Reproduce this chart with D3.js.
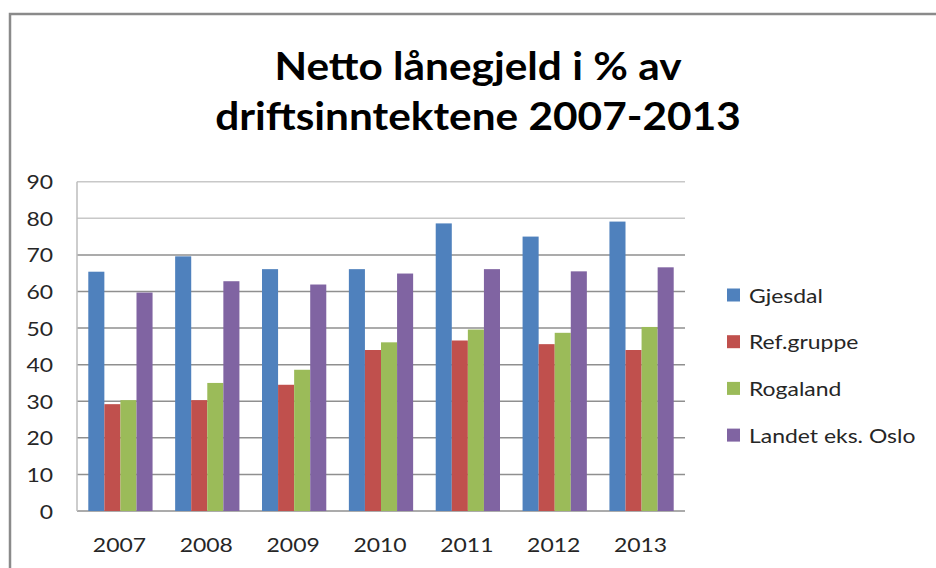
<!DOCTYPE html>
<html>
<head>
<meta charset="utf-8">
<script src="https://cdn.jsdelivr.net/npm/d3@7"></script>
<style>
  html, body { margin: 0; padding: 0; background: #fff; }
  text { font-family: Lato, "Open Sans", sans-serif; fill: #262626; }
</style>
</head>
<body>
<div id="chart-area"></div>
<script>
// data
const years = ['2007', '2008', '2009', '2010', '2011', '2012', '2013'];
const seriesNames = ['Gjesdal', 'Ref.gruppe', 'Rogaland', 'Landet eks. Oslo'];
const gjesdal = [65.4, 69.6, 66.1, 66.1, 78.6, 75.0, 79.1];
const refGruppe = [29.2, 30.3, 34.5, 44.0, 46.6, 45.6, 44.0];
const rogaland = [30.3, 35.0, 38.6, 46.1, 49.6, 48.7, 50.3];
const landet = [59.7, 62.8, 61.9, 64.9, 66.1, 65.5, 66.6];
const yTicks = [0, 10, 20, 30, 40, 50, 60, 70, 80, 90];
const titleLines = ['Netto lånegjeld i % av', 'driftsinntektene 2007-2013'];

let width = 936;
let height = 568;
let plot = { left: 77, right: 685, top: 181.7, bottom: 511 };
let colors = ['#4f81bd', '#c0504d', '#9bbb59', '#8064a2'];
let stretch = 1.24; // text in the picture is wider than normal
let titleStretch = 1.13;

let seriesValues = [gjesdal, refGruppe, rogaland, landet];

let svg = d3
  .select('#chart-area')
  .append('svg')
  .attr('width', width)
  .attr('height', height);

//frame
svg
  .append('path')
  .attr('d', `M10,${height + 5} V14 H${width + 5}`)
  .attr('fill', 'none')
  .attr('stroke', '#8a8a8a')
  .attr('stroke-width', 2.5);

let xScale = d3.scaleBand().domain(years).range([plot.left, plot.right]).paddingInner(0.26).paddingOuter(0.13);
let xSub = d3.scaleBand().domain(seriesNames).range([0, xScale.bandwidth()]);
let yScale = d3.scaleLinear().domain([0, 90]).range([plot.bottom, plot.top]);

function stretchedText(sel, x, y, sx) {
  return sel.attr('transform', `translate(${x},${y}) scale(${sx || stretch},1)`);
}

//gridlines
svg
  .append('g')
  .selectAll('line')
  .data(yTicks)
  .enter()
  .append('line')
  .attr('x1', plot.left)
  .attr('x2', plot.right)
  .attr('y1', (d) => yScale(d))
  .attr('y2', (d) => yScale(d))
  .attr('stroke', (d) => (d >= 80 ? '#c8c8c8' : '#8f8f8f'))
  .attr('stroke-width', 1.5);

//left axis line
svg
  .append('line')
  .attr('x1', plot.left)
  .attr('x2', plot.left)
  .attr('y1', plot.top)
  .attr('y2', plot.bottom)
  .attr('stroke', '#bdbdbd')
  .attr('stroke-width', 1.5);

//y labels
svg
  .append('g')
  .selectAll('text')
  .data(yTicks)
  .enter()
  .append('text')
  .attr('font-size', 18.5)
  .attr('text-anchor', 'end')
  .attr('dominant-baseline', 'central')
  .text((d) => d)
  .each(function (d) {
    stretchedText(d3.select(this), 53, yScale(d));
  });

//bars
let groups = svg
  .append('g')
  .selectAll('g')
  .data(years)
  .enter()
  .append('g')
  .attr('transform', (d) => `translate(${xScale(d)},0)`);

groups
  .selectAll('rect')
  .data((d, i) => seriesNames.map((name, s) => ({ name: name, value: seriesValues[s][i], color: colors[s] })))
  .enter()
  .append('rect')
  .attr('x', (d) => xSub(d.name))
  .attr('width', xSub.bandwidth())
  .attr('y', (d) => yScale(d.value))
  .attr('height', (d) => yScale(0) - yScale(d.value))
  .attr('fill', (d) => d.color);

//x labels
svg
  .append('g')
  .selectAll('text')
  .data(years)
  .enter()
  .append('text')
  .attr('font-size', 18.5)
  .attr('text-anchor', 'middle')
  .text((d) => d)
  .each(function (d) {
    stretchedText(d3.select(this), xScale(d) + xScale.bandwidth() / 2 - 1, 551.5);
  });

//title
svg
  .append('g')
  .selectAll('text')
  .data(titleLines)
  .enter()
  .append('text')
  .attr('font-size', 37.5)
  .attr('font-weight', 'bold')
  .attr('text-anchor', 'middle')
  .style('fill', '#000')
  .text((d) => d)
  .each(function (d, i) {
    stretchedText(d3.select(this), 478, 80 + i * 50, titleStretch);
  });

//legend
let legend = svg
  .append('g')
  .selectAll('g')
  .data(seriesNames)
  .enter()
  .append('g')
  .attr('transform', (d, i) => `translate(727, ${295 + i * 46.7})`);
legend
  .append('rect')
  .attr('y', -6.5)
  .attr('width', 13)
  .attr('height', 13)
  .attr('fill', (d, i) => colors[i]);
legend
  .append('text')
  .attr('font-size', 18.5)
  .attr('dominant-baseline', 'central')
  .text((d) => d)
  .each(function () {
    stretchedText(d3.select(this), 22, 0);
  });
</script>
</body>
</html>
